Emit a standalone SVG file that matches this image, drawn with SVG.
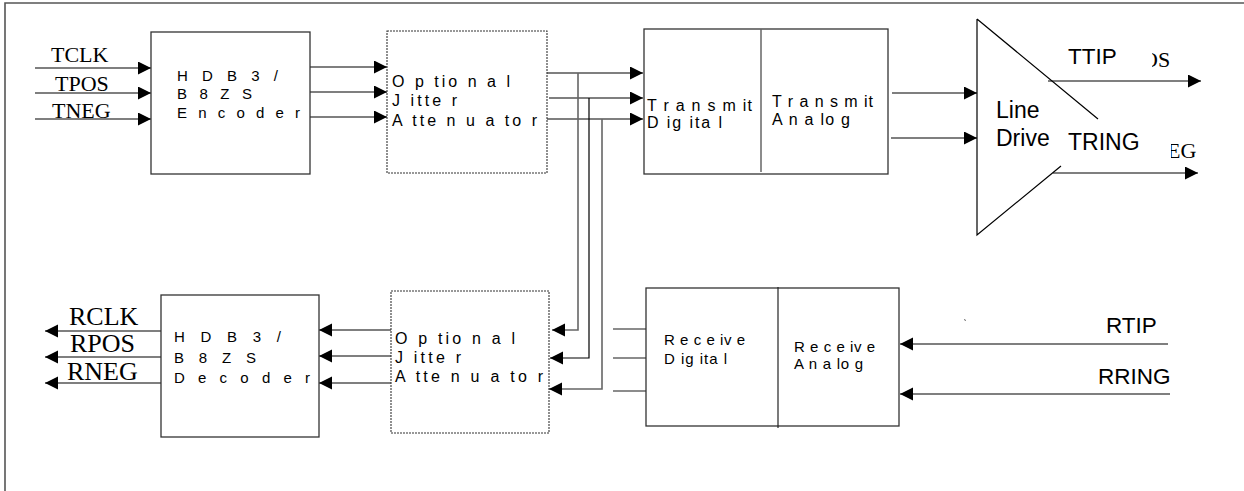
<svg xmlns="http://www.w3.org/2000/svg" width="1244" height="491" viewBox="0 0 1244 491">
<style>
.box{fill:#fff;stroke:#333;stroke-width:1.3}
.dash{fill:#fff;stroke:#333;stroke-width:1.1;stroke-dasharray:2 1}
.ln{fill:none;stroke:#000;stroke-width:1.2}
.gl{fill:none;stroke:#666;stroke-width:1.6}
.bt{font-family:"Liberation Sans",Arial,sans-serif;font-size:15px;fill:#000}
.bl{font-family:"Liberation Sans",Arial,sans-serif;font-size:16px;fill:#000}
.st{font-family:"Liberation Serif","Times New Roman",serif;fill:#000}
.sl{font-family:"Liberation Sans",Arial,sans-serif;fill:#000}
</style>
<defs>
<marker id="ah" markerUnits="userSpaceOnUse" markerWidth="14" markerHeight="14" refX="13" refY="6.5" orient="auto">
<path d="M0,0 L13,6.5 L0,13 z" fill="#000"/>
</marker>
<clipPath id="cOS"><rect x="1152" y="40" width="40" height="40"/></clipPath>
<clipPath id="cEG"><rect x="1171" y="130" width="40" height="40"/></clipPath>
</defs>
<rect width="1244" height="491" fill="#fff"/>
<g id="frame">
<path d="M5,491 V3 H1244" fill="none" stroke="#555" stroke-width="1.6"/>
</g>
<g id="connectors">
<line class="ln" x1="35" y1="68" x2="151" y2="68" marker-end="url(#ah)"/>
<line class="ln" x1="35" y1="93" x2="151" y2="93" marker-end="url(#ah)"/>
<line class="ln" x1="35" y1="119" x2="151" y2="119" marker-end="url(#ah)"/>
<line class="ln" x1="310" y1="67" x2="387" y2="67" marker-end="url(#ah)"/>
<line class="ln" x1="310" y1="92" x2="387" y2="92" marker-end="url(#ah)"/>
<line class="ln" x1="310" y1="117" x2="387" y2="117" marker-end="url(#ah)"/>
<line class="ln" x1="547" y1="73" x2="643" y2="73" marker-end="url(#ah)"/>
<line class="ln" x1="549" y1="98" x2="643" y2="98" marker-end="url(#ah)"/>
<line class="ln" x1="547" y1="119" x2="643" y2="119" marker-end="url(#ah)"/>
<polyline class="gl" points="578,73 578,330 552,330" marker-end="url(#ah)"/>
<polyline class="ln" points="589,98 589,358 550,358" marker-end="url(#ah)"/>
<polyline class="gl" points="602,119 602,389 549,389" marker-end="url(#ah)"/>
<line class="ln" x1="391" y1="330" x2="319" y2="330" marker-end="url(#ah)"/>
<line class="ln" x1="391" y1="356" x2="319" y2="356" marker-end="url(#ah)"/>
<line class="ln" x1="391" y1="383" x2="319" y2="383" marker-end="url(#ah)"/>
<line class="ln" x1="162" y1="331" x2="45" y2="331" marker-end="url(#ah)"/>
<line class="ln" x1="162" y1="357" x2="45" y2="357" marker-end="url(#ah)"/>
<line class="ln" x1="162" y1="383" x2="45" y2="383" marker-end="url(#ah)"/>
<line class="ln" x1="892" y1="93" x2="977" y2="93" marker-end="url(#ah)"/>
<line class="ln" x1="891" y1="138" x2="977" y2="138" marker-end="url(#ah)"/>
<line class="ln" x1="1048" y1="81" x2="1201" y2="81" marker-end="url(#ah)"/>
<line class="ln" x1="1053" y1="173" x2="1198" y2="173" marker-end="url(#ah)"/>
<line class="gl" x1="613" y1="329" x2="646" y2="329"/>
<line class="gl" x1="613" y1="358" x2="646" y2="358"/>
<line class="gl" x1="613" y1="391" x2="646" y2="391"/>
<line class="ln" x1="1168" y1="344" x2="900" y2="344" marker-end="url(#ah)"/>
<line class="ln" x1="1170" y1="394" x2="900" y2="394" marker-end="url(#ah)"/>
</g>
<g id="tx-labels">
<text class="st" font-size="22" x="51" y="62">TCLK</text>
<text class="st" font-size="22" x="55" y="91">TPOS</text>
<text class="st" font-size="22" x="52" y="118">TNEG</text>
</g>
<g id="rx-labels">
<text class="st" font-size="26" x="69" y="325">RCLK</text>
<text class="st" font-size="26" x="70" y="352">RPOS</text>
<text class="st" font-size="26" x="67" y="380">RNEG</text>
</g>
<g id="encoder">
<rect class="box" x="151" y="32" width="159" height="142"/>
<text class="bt" x="177" y="81" textLength="101" lengthAdjust="spacing">H D B 3 /</text>
<text class="bt" x="177" y="99" textLength="75" lengthAdjust="spacing">B 8 Z S</text>
<text class="bt" x="177" y="118" textLength="123" lengthAdjust="spacing">E n c o d e r</text>
</g>
<g id="tx-jitter">
<rect class="dash" x="387" y="31" width="160" height="142"/>
<text class="bl" x="392" y="87" textLength="118" lengthAdjust="spacing">O p tio n a l</text>
<text class="bl" x="392" y="106" textLength="65" lengthAdjust="spacing">J itte r</text>
<text class="bl" x="392" y="126" textLength="145" lengthAdjust="spacing">A tte n u a to r</text>
</g>
<g id="transmit">
<rect class="box" x="644" y="29" width="244" height="145"/>
<line x1="761" y1="29" x2="761" y2="172" stroke="#666" stroke-width="1.5"/>
<text class="bl" x="647" y="111" textLength="105" lengthAdjust="spacing">T r a n s m it</text>
<text class="bl" x="647" y="128" textLength="75" lengthAdjust="spacing">D ig ita l</text>
<text class="bl" x="772" y="107" textLength="101" lengthAdjust="spacing">T r a n s m it</text>
<text class="bl" x="772" y="125" textLength="78" lengthAdjust="spacing">A n a lo g</text>
</g>
<g id="line-driver">
<path d="M977,19 V235 L1061,166 M977,19 L1098,119" fill="none" stroke="#000" stroke-width="1.2"/>
<text class="sl" font-size="23" x="996" y="118">Line</text>
<text class="sl" font-size="23" x="996" y="146">Drive</text>
<text class="sl" font-size="22.5" x="1068" y="64">TTIP</text>
<text class="sl" font-size="23" x="1068" y="150">TRING</text>
<text class="st" font-size="22" x="1142" y="67" clip-path="url(#cOS)">OS</text>
<text class="st" font-size="22" x="1167" y="158" clip-path="url(#cEG)">EG</text>
</g>
<g id="decoder">
<rect class="box" x="161" y="295" width="158" height="142"/>
<text class="bt" x="174" y="342" textLength="107" lengthAdjust="spacing">H D B 3 /</text>
<text class="bt" x="174" y="363" textLength="82" lengthAdjust="spacing">B 8 Z S</text>
<text class="bt" x="174" y="383" textLength="136" lengthAdjust="spacing">D e c o d e r</text>
</g>
<g id="rx-jitter">
<rect class="dash" x="391" y="291" width="158" height="142"/>
<text class="bl" x="395" y="344" textLength="120" lengthAdjust="spacing">O p tio n a l</text>
<text class="bl" x="395" y="363" textLength="66" lengthAdjust="spacing">J itte r</text>
<text class="bl" x="395" y="382" textLength="148" lengthAdjust="spacing">A tte n u a to r</text>
</g>
<g id="receive">
<rect class="box" x="646" y="288" width="253" height="138"/>
<line x1="778" y1="287" x2="778" y2="428" stroke="#222" stroke-width="1.2"/>
<text class="bt" font-size="14" x="664" y="345" textLength="81" lengthAdjust="spacing">R e c e iv e</text>
<text class="bt" font-size="14" x="664" y="364" textLength="63" lengthAdjust="spacing">D ig ita l</text>
<text class="bt" font-size="14" x="794" y="352" textLength="81" lengthAdjust="spacing">R e c e iv e</text>
<text class="bt" font-size="14" x="794" y="369" textLength="69" lengthAdjust="spacing">A n a lo g</text>
<line x1="964" y1="319.5" x2="966" y2="320.5" stroke="#666" stroke-width="1"/>
</g>
<g id="rx-inputs">
<text class="sl" font-size="22.5" x="1106" y="333">RTIP</text>
<text class="sl" font-size="22.5" x="1098" y="384">RRING</text>
</g>
</svg>
